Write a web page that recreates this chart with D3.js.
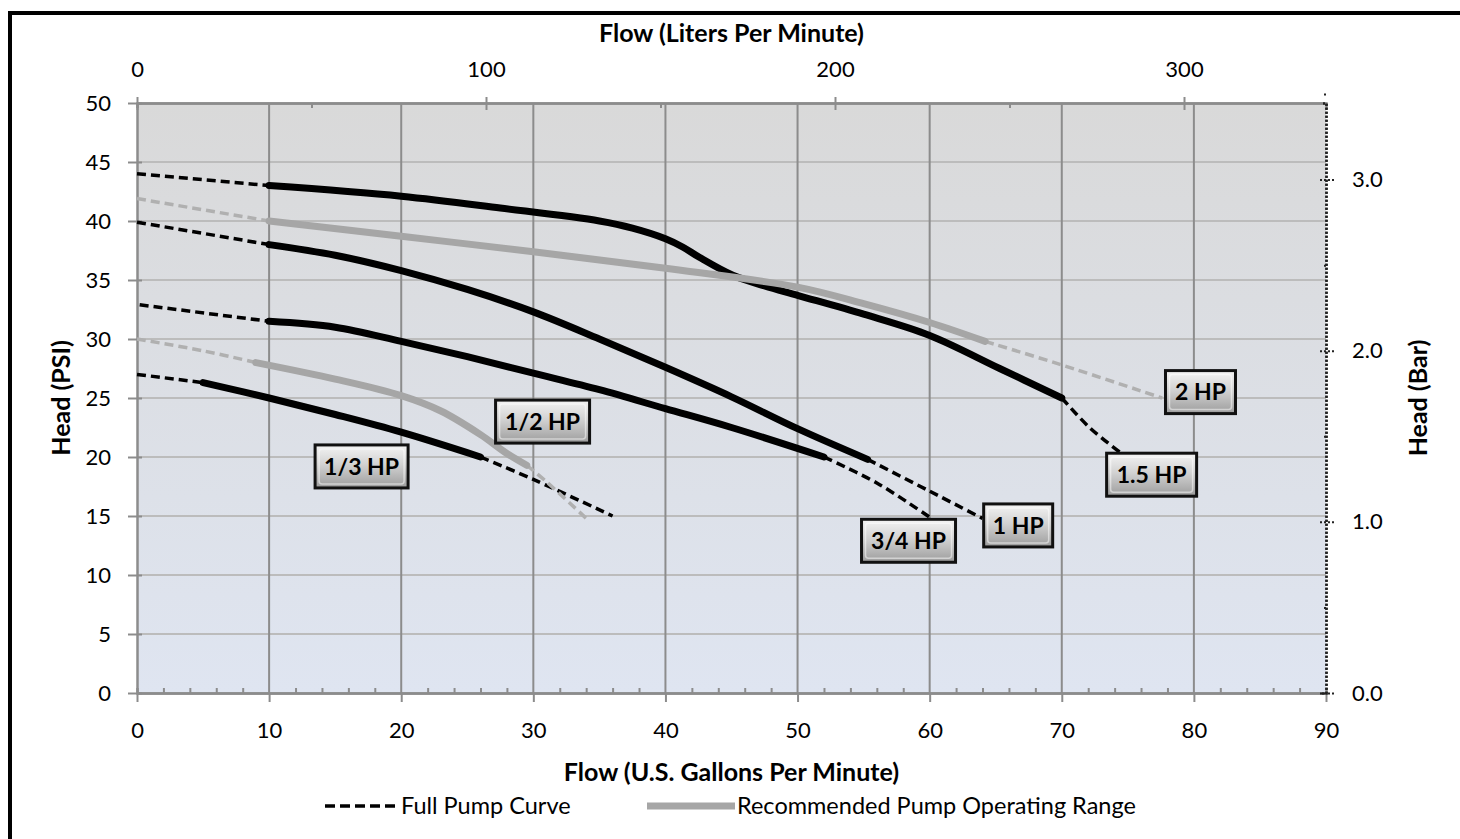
<html>
<head>
    <title>Pump Curves</title>
    <meta charset="utf-8">
    <script src="https://cdn.jsdelivr.net/npm/d3@7/dist/d3.min.js"></script>
    <style>
        body {
            margin: 0;
            background: #fff;
            font-family: Lato, "Open Sans", sans-serif;
        }

        .tick text {
            font-size: 22px;
            fill: #000;
        }

        .title {
            font-size: 25px;
            font-weight: bold;
        }

        .legend {
            font-size: 23.5px;
        }

        .hp-label {
            font-size: 23px;
            font-weight: bold;
        }
    </style>
</head>
<body>
<svg id="chart" width="1460" height="839"></svg>

<script>
    // axis ticks
    var gpmTicks = [0, 10, 20, 30, 40, 50, 60, 70, 80, 90];
    var psiTicks = [0, 5, 10, 15, 20, 25, 30, 35, 40, 45, 50];
    var lpmTicks = [0, 100, 200, 300];
    var barTicks = [0.0, 1.0, 2.0, 3.0];

    // [gpm, psi]. "start"/"end" = dashed full curve, "range" = recommended
    var hp13Start = [[0, 27], [5, 26.3]];
    var hp13Range = [[5, 26.3], [10, 25], [15, 23.6], [20, 22.1], [26, 20]];
    var hp13End = [[26, 20], [30, 18.1], [36, 15]];

    var hp12Start = [[0, 30], [5, 29], [9, 28]];
    var hp12Range = [[9, 28], [15, 26.6], [20, 25.2], [23, 23.9], [26, 21.9], [28, 20.3], [29.5, 19.3]];
    var hp12End = [[29.5, 19.3], [31, 17.9], [34, 14.8]];

    var hp34Start = [[0.2, 32.9], [10, 31.5]];
    var hp34Range = [[10, 31.5], [15, 31], [20, 29.8], [25, 28.5], [30, 27.1], [35, 25.7], [40, 24.1], [45, 22.5], [52, 20]];
    var hp34End = [[52, 20], [56, 17.8], [60, 14.9]];

    var hp1Start = [[0, 39.9], [10, 38]];
    var hp1Range = [[10, 38], [15, 37.1], [20, 35.8], [25, 34.2], [30, 32.3], [35, 30], [40, 27.6], [45, 25.1], [50, 22.4], [55.3, 19.8]];
    var hp1End = [[55.3, 19.8], [60, 17.1], [64, 14.8]];

    var hp15Start = [[0, 44], [10, 43]];
    var hp15Range = [[10, 43], [20, 42.1], [27.5, 41.1], [35, 40], [37.5, 39.4], [40, 38.5], [41.3, 37.8], [42.6, 36.9], [45.1, 35.4], [47.5, 34.5], [50, 33.7], [55, 32.1], [60, 30.3], [65.3, 27.5], [70, 25]];
    var hp15End = [[70, 25], [72.1, 22.5], [74.4, 20.4]];

    var hp2Start = [[0, 41.9], [10, 40]];
    var hp2Range = [[10, 40], [20, 38.7], [30, 37.4], [40, 36], [50, 34.4], [55, 33], [60, 31.4], [64.2, 29.8]];
    var hp2End = [[64.2, 29.8], [70, 27.8], [77.6, 25]];

    // label names and anchor points (gpm, psi)
    var hpNames = ["1/3 HP", "1/2 HP", "3/4 HP", "1 HP", "1.5 HP", "2 HP"];
    var hpLabelAt = [[17, 19.2], [30.7, 23], [58.4, 12.9], [66.7, 14.2], [76.8, 18.5], [80.5, 25.5]];
    var hpLabelWidth = [93, 94, 94, 69, 90, 70];

    var GPM_TO_LPM = 3.78541;
    var PSI_PER_BAR = 14.5038;

    var curves = [
        {start: hp13Start, range: hp13Range, end: hp13End, colour: "#000"},
        {start: hp12Start, range: hp12Range, end: hp12End, colour: "#a6a6a6"},
        {start: hp34Start, range: hp34Range, end: hp34End, colour: "#000"},
        {start: hp1Start, range: hp1Range, end: hp1End, colour: "#000"},
        {start: hp15Start, range: hp15Range, end: hp15End, colour: "#000"},
        {start: hp2Start, range: hp2Range, end: hp2End, colour: "#a6a6a6"}
    ];

    var plotLeft = 137, plotRight = 1326, plotTop = 103, plotBottom = 693;

    var x = d3.scaleLinear().domain([0, 90]).range([plotLeft, plotRight]);
    var y = d3.scaleLinear().domain([0, 50]).range([plotBottom, plotTop]);
    var xL = d3.scaleLinear().domain([0, 90 * GPM_TO_LPM]).range([plotLeft, plotRight]);
    var yB = d3.scaleLinear().domain([0, 50 / PSI_PER_BAR]).range([plotBottom, plotTop]);

    var svg = d3.select("#chart");
    var defs = svg.append("defs");

    var bg = defs.append("linearGradient").attr("id", "bg")
        .attr("x1", 0).attr("y1", 0).attr("x2", 0).attr("y2", 1);
    bg.append("stop").attr("offset", "0%").attr("stop-color", "#d9d9d9");
    bg.append("stop").attr("offset", "100%").attr("stop-color", "#dfe5f1");

    var btn = defs.append("linearGradient").attr("id", "btn")
        .attr("x1", 0).attr("y1", 0).attr("x2", 0).attr("y2", 1);
    btn.append("stop").attr("offset", "0%").attr("stop-color", "#f4f4f4");
    btn.append("stop").attr("offset", "45%").attr("stop-color", "#d2d2d2");
    btn.append("stop").attr("offset", "100%").attr("stop-color", "#9c9c9c");

    // outer frame
    svg.append("rect")
        .attr("x", 10).attr("y", 13)
        .attr("width", 1470).attr("height", 850)
        .attr("fill", "none").attr("stroke", "#000").attr("stroke-width", 4);

    // plot background
    svg.append("rect")
        .attr("x", plotLeft).attr("y", plotTop)
        .attr("width", plotRight - plotLeft).attr("height", plotBottom - plotTop)
        .attr("fill", "url(#bg)");

    // grid
    svg.append("g").selectAll("line")
        .data(psiTicks.filter(function (d) { return d > 0 && d < 50; }))
        .enter().append("line")
        .attr("x1", plotLeft).attr("x2", plotRight)
        .attr("y1", function (d) { return y(d); }).attr("y2", function (d) { return y(d); })
        .attr("stroke", "#bcbcbc").attr("stroke-width", 2);

    svg.append("g").selectAll("line")
        .data(gpmTicks.filter(function (d) { return d > 0 && d < 90; }))
        .enter().append("line")
        .attr("y1", plotTop).attr("y2", plotBottom)
        .attr("x1", function (d) { return x(d); }).attr("x2", function (d) { return x(d); })
        .attr("stroke", "#8c8c8c").attr("stroke-width", 2);

    function styleAxis(g, colour) {
        g.select(".domain").attr("stroke", colour).attr("stroke-width", 2.5);
        g.selectAll(".tick line").attr("stroke", colour).attr("stroke-width", 2);
        g.selectAll(".tick text").style("font-family", "Lato, 'Open Sans', sans-serif");
    }

    // bottom axis (gpm)
    var minorGpm = d3.range(0, 91, 2).filter(function (d) { return d % 10 !== 0; });
    svg.append("g")
        .attr("transform", "translate(0," + plotBottom + ")")
        .call(d3.axisBottom(x).tickValues(minorGpm).tickSize(-5).tickFormat(""))
        .call(styleAxis, "#8c8c8c");
    svg.append("g")
        .attr("transform", "translate(0," + plotBottom + ")")
        .call(d3.axisBottom(x).tickValues(gpmTicks).tickSize(9).tickPadding(20).tickSizeOuter(0))
        .call(styleAxis, "#8c8c8c");

    // top axis (lpm)
    var minorLpm = [50, 150, 250];
    svg.append("g")
        .attr("transform", "translate(0," + plotTop + ")")
        .call(d3.axisTop(xL).tickValues(minorLpm).tickSize(-5).tickFormat(""))
        .call(styleAxis, "#8c8c8c");
    var topAxis = svg.append("g")
        .attr("transform", "translate(0," + plotTop + ")")
        .call(d3.axisTop(xL).tickValues(lpmTicks).tickSize(6).tickPadding(20).tickSizeOuter(0))
        .call(styleAxis, "#8c8c8c");
    topAxis.selectAll(".tick line").attr("y2", -6).attr("y1", 7);

    // left axis (psi)
    var leftAxis = svg.append("g")
        .attr("transform", "translate(" + plotLeft + ",0)")
        .call(d3.axisLeft(y).tickValues(psiTicks).tickSize(9).tickPadding(17).tickSizeOuter(0))
        .call(styleAxis, "#8c8c8c");
    leftAxis.selectAll(".tick line").attr("x2", 5).attr("x1", -9);

    // right axis (bar), dotted
    var minorBar = [0.5, 1.5, 2.5, 3.5];
    var rightMinor = svg.append("g")
        .attr("transform", "translate(" + plotRight + ",0)")
        .call(d3.axisRight(yB).tickValues(minorBar).tickSize(-4).tickFormat(""))
        .call(styleAxis, "#222");
    var rightAxis = svg.append("g")
        .attr("transform", "translate(" + plotRight + ",0)")
        .call(d3.axisRight(yB).tickValues(barTicks).tickSize(8).tickPadding(18).tickSizeOuter(0)
            .tickFormat(d3.format(".1f")))
        .call(styleAxis, "#222");
    rightAxis.selectAll(".tick line").attr("x1", -6);
    rightMinor.selectAll("line, .domain").attr("stroke-dasharray", "2,2");
    rightAxis.selectAll("line, .domain").attr("stroke-dasharray", "2,2");

    // curves
    var line = d3.line()
        .x(function (d) { return x(d[0]); })
        .y(function (d) { return y(d[1]); })
        .curve(d3.curveCatmullRom.alpha(0.5));

    var curveG = svg.append("g");
    curves.forEach(function (c) {
        [c.start, c.end].forEach(function (seg) {
            curveG.append("path")
                .attr("d", line(seg))
                .attr("fill", "none")
                .attr("stroke", c.colour === "#000" ? "#000" : "#b0b0b0")
                .attr("stroke-width", 3.5)
                .attr("stroke-dasharray", "9,5");
        });
        curveG.append("path")
            .attr("d", line(c.range))
            .attr("fill", "none")
            .attr("stroke", c.colour)
            .attr("stroke-width", 7)
            .attr("stroke-linecap", "round");
    });

    // HP labels
    var labels = svg.append("g").selectAll("g")
        .data(hpNames)
        .enter().append("g")
        .attr("transform", function (d, i) {
            return "translate(" + x(hpLabelAt[i][0]) + "," + y(hpLabelAt[i][1]) + ")";
        });
    labels.append("rect")
        .attr("x", function (d, i) { return -hpLabelWidth[i] / 2; })
        .attr("y", -21.5)
        .attr("width", function (d, i) { return hpLabelWidth[i]; })
        .attr("height", 43)
        .attr("fill", "url(#btn)")
        .attr("stroke", "#111").attr("stroke-width", 3);
    labels.append("rect")
        .attr("x", function (d, i) { return -hpLabelWidth[i] / 2 + 4; })
        .attr("y", -17.5)
        .attr("width", function (d, i) { return hpLabelWidth[i] - 8; })
        .attr("height", 35)
        .attr("rx", 3)
        .attr("fill", "none")
        .attr("stroke", "#fff").attr("stroke-opacity", 0.5).attr("stroke-width", 1.5);
    labels.append("text")
        .attr("class", "hp-label")
        .attr("text-anchor", "middle")
        .attr("dy", "0.36em")
        .text(function (d) { return d; });

    // titles
    svg.append("text").attr("class", "title")
        .attr("x", (plotLeft + plotRight) / 2).attr("y", 42)
        .attr("text-anchor", "middle")
        .text("Flow (Liters Per Minute)");
    svg.append("text").attr("class", "title")
        .attr("x", (plotLeft + plotRight) / 2).attr("y", 781)
        .attr("text-anchor", "middle")
        .text("Flow (U.S. Gallons Per Minute)");
    svg.append("text").attr("class", "title")
        .attr("transform", "translate(70," + (plotTop + plotBottom) / 2 + ") rotate(-90)")
        .attr("text-anchor", "middle")
        .text("Head (PSI)");
    svg.append("text").attr("class", "title")
        .attr("transform", "translate(1427," + (plotTop + plotBottom) / 2 + ") rotate(-90)")
        .attr("text-anchor", "middle")
        .text("Head (Bar)");

    // legend
    var legend = svg.append("g");
    legend.append("line")
        .attr("x1", 325).attr("x2", 395).attr("y1", 806).attr("y2", 806)
        .attr("stroke", "#000").attr("stroke-width", 3.5).attr("stroke-dasharray", "10,5");
    legend.append("text").attr("class", "legend")
        .attr("x", 401).attr("y", 814)
        .text("Full Pump Curve");
    legend.append("line")
        .attr("x1", 647).attr("x2", 735).attr("y1", 806).attr("y2", 806)
        .attr("stroke", "#a6a6a6").attr("stroke-width", 7);
    legend.append("text").attr("class", "legend")
        .attr("x", 737).attr("y", 814)
        .text("Recommended Pump Operating Range");
</script>
</body>
</html>
